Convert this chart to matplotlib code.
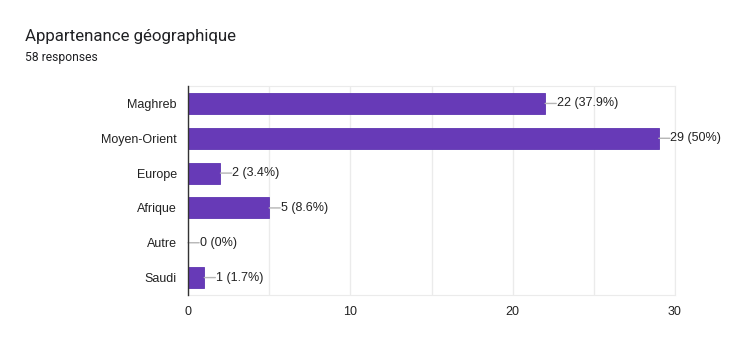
import matplotlib
matplotlib.use('Agg')
import matplotlib.pyplot as plt

# Survey data
categories = ['Maghreb', 'Moyen-Orient', 'Europe', 'Afrique', 'Autre', 'Saudi']
counts = [22, 29, 2, 5, 0, 1]
pct_labels = ['37.9%', '50%', '3.4%', '8.6%', '0%', '1.7%']
total = 58

bar_color = '#673ab7'

plt.rcParams['font.family'] = ['Liberation Sans', 'DejaVu Sans']

fig = plt.figure(figsize=(7.5, 3.57), dpi=100)
ax = fig.add_axes([0.2507, 0.1737, 0.6493, 0.5853])

y = list(range(len(categories)))
ax.barh(y, counts, height=0.6, color=bar_color, edgecolor='#5e35b1', linewidth=0.6, zorder=3)

for yi, c, p in zip(y, counts, pct_labels):
    # leader line, then the label right at its end
    ax.annotate('', xy=(c, yi), xytext=(8, 0), textcoords='offset points',
                arrowprops=dict(arrowstyle='-', color='#b5b5b5', lw=1, shrinkA=0, shrinkB=0),
                zorder=4)
    ax.annotate(f'{c} ({p})', xy=(c, yi), xytext=(8.3, 0), textcoords='offset points',
                ha='left', va='center', fontsize=9, color='#222222', zorder=4)

ax.set_xlim(0, 30)
ax.set_ylim(len(categories) - 0.5, -0.5)
ax.set_yticks(y)
ax.set_yticklabels(categories)
ax.set_xticks([0, 10, 20, 30])
ax.set_xticks([5, 15, 25], minor=True)
ax.tick_params(axis='both', which='both', length=0, labelsize=9, colors='#222222')
ax.tick_params(axis='y', pad=8)
ax.tick_params(axis='x', pad=8)
ax.grid(axis='x', which='both', color='#ebebeb', linewidth=1, zorder=0)

for s in ['top', 'right', 'bottom']:
    ax.spines[s].set_color('#ebebeb')
ax.spines['left'].set_color('#333333')
ax.spines['left'].set_linewidth(1)
ax.spines['left'].set_zorder(5)

fig.text(25 / 750, 1 - 37 / 357, 'Appartenance géographique', fontsize=12.2,
         family=['Roboto', 'DejaVu Sans'], color='#202124', va='center')
fig.text(25 / 750, 1 - 57 / 357, f'{total} responses', fontsize=8.7,
         family=['Roboto', 'DejaVu Sans'], color='#202124', va='center')

fig.savefig('out.png', dpi=100, facecolor='white')
